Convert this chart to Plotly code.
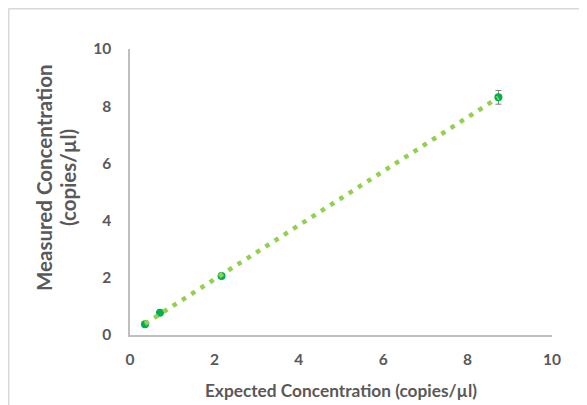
import numpy as np
import plotly.graph_objects as go

expected = [0.355, 0.71, 2.17, 8.73]
measured = [0.38, 0.78, 2.06, 8.31]
err = [0.02, 0.03, 0.05, 0.24]

x_title = "Expected Concentration (copies/µl)"
y_title_lines = ["Measured Concentration", "(copies/µl)"]
tick_vals = [0, 2, 4, 6, 8, 10]

# the page adds an 8px body margin; figure coordinates = screen - 8
W, H = 587, 405
L, T = 122, 41
PW, PH = 422, 286
R = W - L - PW
B = H - T - PH

slope, intercept = np.polyfit(expected, measured, 1)
tx = [min(expected), max(expected)]
ty = [slope * v + intercept for v in tx]

fig = go.Figure()
fig.add_trace(go.Scatter(
    x=expected, y=measured, mode="markers",
    marker=dict(color="#00B050", size=8),
    error_y=dict(type="data", array=err, visible=True, color="#7F7F7F", thickness=1, width=3),
    showlegend=False))
fig.add_trace(go.Scatter(
    x=tx, y=ty, mode="lines",
    line=dict(color="#92D050", width=4.5, dash="4.5px,6.5px"),
    showlegend=False))

font = "Lato, 'Open Sans', sans-serif"


def px_x(sx):
    return (sx - 8 - L) / PW


def px_y(sy):
    return (T + PH - (sy - 8)) / PH


fig.update_layout(
    width=W, height=H,
    margin=dict(l=L, r=R, t=T, b=B, autoexpand=False),
    paper_bgcolor="white", plot_bgcolor="white",
    font=dict(family=font, color="#595959"),
    xaxis=dict(range=[0, 10], tickvals=tick_vals, showgrid=False, zeroline=False,
               showline=True, linecolor="#BFBFBF", linewidth=1.5, automargin=False,
               tickfont=dict(size=15.5, family=font, color="#595959", weight="bold"),
               ticks="", ticklabelstandoff=10,
               title=dict(text=x_title, font=dict(size=17.3, family=font, color="#595959", weight="bold"),
                          standoff=18)),
    yaxis=dict(range=[0, 10], tickvals=tick_vals, showgrid=False, zeroline=False,
               showline=True, linecolor="#BFBFBF", linewidth=1.5, automargin=False,
               tickfont=dict(size=15.5, family=font, color="#595959", weight="bold"),
               ticks="", ticklabelstandoff=14),
    annotations=[
        dict(text=y_title_lines[0], textangle=-90, xref="paper", yref="paper",
             x=px_x(44), y=px_y(178), showarrow=False,
             font=dict(size=20.5, family=font, color="#595959", weight="bold"),
             xanchor="center", yanchor="middle"),
        dict(text=y_title_lines[1], textangle=-90, xref="paper", yref="paper",
             x=px_x(68), y=px_y(178), showarrow=False,
             font=dict(size=20.5, family=font, color="#595959", weight="bold"),
             xanchor="center", yanchor="middle"),
    ],
    shapes=[
        dict(type="line", xref="paper", yref="paper", x0=px_x(8.75), x1=px_x(8.75),
             y0=px_y(8.5), y1=px_y(420), line=dict(color="#D9D9D9", width=1.5)),
        dict(type="line", xref="paper", yref="paper", x0=px_x(8.5), x1=px_x(600),
             y0=px_y(8.75), y1=px_y(8.75), line=dict(color="#D9D9D9", width=1.5)),
    ],
)
fig.write_html("out.html")
